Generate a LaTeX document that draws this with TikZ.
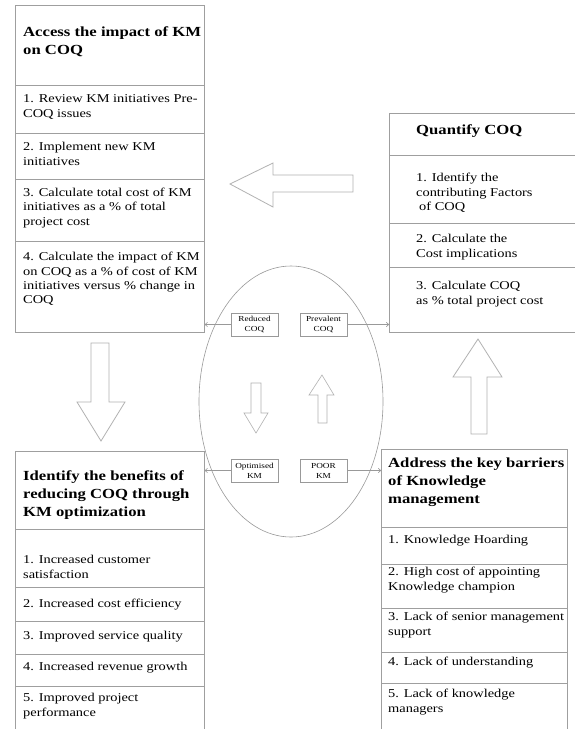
\documentclass[tikz,border=0pt]{standalone}
\usepackage{fontspec}
\setmainfont{Liberation Serif}[FakeStretch=1.2]
\usetikzlibrary{shapes.geometric,arrows.meta}
\tikzset{
  boxline/.style={draw=gray!75, line width=0.8pt},
  bigbox/.style={boxline, rectangle, inner sep=0pt, anchor=north west},
  body/.style={anchor=west, align=left, inner sep=0pt, font=\fontsize{12}{14.4}\selectfont},
  head/.style={anchor=west, align=left, inner sep=0pt, font=\fontsize{13.9}{18}\selectfont\bfseries},
  small/.style={draw=gray!80, line width=0.6pt, minimum width=47pt, minimum height=23pt,
    inner sep=0pt, align=center, font=\fontsize{7.7}{10}\selectfont},
  conn/.style={draw=gray!80, line width=0.6pt, -{To[length=3pt,width=5pt]}},
  blockarrow/.style={draw=gray!60, line width=0.8pt, fill=white, line join=miter},
}
\begin{document}
\begin{tikzpicture}[x=1pt,y=-1pt]
\useasboundingbox (0,0) rectangle (575,729);
\clip (0,0) rectangle (575,729);
\fill[white] (0,0) rectangle (575,729);

% ---------- top-left box ----------
\node[bigbox, minimum width=189pt, minimum height=327pt] (tl) at (15,5) {};
\draw[boxline] (15,85) -- (204,85);
\draw[boxline] (15,133) -- (204,133);
\draw[boxline] (15,179) -- (204,179);
\draw[boxline] (15,241) -- (204,241);
\node[head] (tlh) at (23,42) {Access the impact of KM\\on COQ};
\node[body] (tl1) at (23,107) {1. Review KM initiatives Pre-\\COQ issues};
\node[body] (tl2) at (23,154) {2. Implement new KM\\initiatives};
\node[body] (tl3) at (23,208) {3. Calculate total cost of KM\\initiatives as a \% of total\\project cost};
\node[body] (tl4) at (23,279) {4. Calculate the impact of KM\\on COQ as a \% of cost of KM\\initiatives versus \% change in\\COQ};

% ---------- Quantify box ----------
\node[bigbox, minimum width=195pt, minimum height=219pt] (q) at (389,113) {};
\draw[boxline] (389,155) -- (585,155);
\draw[boxline] (389,223) -- (585,223);
\draw[boxline] (389,267) -- (585,267);
\node[head] (qh) at (416,131) {Quantify COQ};
\node[body] (q1) at (416,193) {1. Identify the\\contributing Factors\\\hspace*{3pt}of COQ};
\node[body] (q2) at (416,247) {2. Calculate the\\Cost implications};
\node[body] (q3) at (416,294) {3. Calculate COQ\\as \% total project cost};

% ---------- bottom-left box ----------
\node[bigbox, minimum width=189pt, minimum height=300pt] (bl) at (15,451) {};
\draw[boxline] (15,529) -- (204,529);
\draw[boxline] (15,587) -- (204,587);
\draw[boxline] (15,621) -- (204,621);
\draw[boxline] (15,654) -- (204,654);
\draw[boxline] (15,686) -- (204,686);
\node[head] (blh) at (23,495) {Identify the benefits of\\reducing COQ through\\KM optimization};
\node[body] (bl1) at (23,567) {1. Increased customer\\satisfaction};
\node[body] (bl2) at (23,605) {2. Increased cost efficiency};
\node[body] (bl3) at (23,637) {3. Improved service quality};
\node[body] (bl4) at (23,668) {4. Increased revenue growth};
\node[body] (bl5) at (23,706) {5. Improved project\\performance};

% ---------- bottom-right box ----------
\node[bigbox, minimum width=186pt, minimum height=300pt] (br) at (381,449) {};
\draw[boxline] (381,527) -- (567,527);
\draw[boxline] (381,564) -- (567,564);
\draw[boxline] (381,608) -- (567,608);
\draw[boxline] (381,652) -- (567,652);
\draw[boxline] (381,683) -- (567,683);
\node[head] (brh) at (388,482) {Address the key barriers\\of Knowledge\\management};
\node[body] (br1) at (388,541) {1. Knowledge Hoarding};
\node[body] (br2) at (388,580) {2. High cost of appointing\\Knowledge champion};
\node[body] (br3) at (388,625) {3. Lack of senior management\\support};
\node[body] (br4) at (388,663) {4. Lack of understanding};
\node[body] (br5) at (388,702) {5. Lack of knowledge\\managers};

% ---------- central ellipse ----------
\node[ellipse, draw=gray!80, line width=0.6pt, minimum width=184pt, minimum height=271pt, inner sep=0pt] (ell) at (291,401.5) {};
\node[small] (red)  at (254.5,324.5) {Reduced\\COQ};
\node[small] (prev) at (323.5,324.5) {Prevalent\\COQ};
\node[small] (opt)  at (254.5,470.5) {Optimised\\KM};
\node[small] (poor) at (323.5,470.5) {POOR\\KM};

\draw[conn] (red.west) -- (red.west -| tl.east);
\draw[conn] (prev.east) -- (prev.east -| q.west);
\draw[conn] (opt.west) -- (opt.west -| bl.east);
\draw[conn] (poor.east) -- (poor.east -| br.west);

% ---------- block arrows ----------
\draw[blockarrow] (230,184) -- (273,163) -- (273,175) -- (353,175) -- (353,192) -- (273,192) -- (273,207) -- cycle;
\draw[blockarrow] (91,343) -- (109,343) -- (109,402) -- (125,402) -- (101,441) -- (77,402) -- (91,402) -- cycle;
\draw[blockarrow] (471,434) -- (487,434) -- (487,377) -- (502,377) -- (478,339) -- (453,377) -- (471,377) -- cycle;
\draw[blockarrow, line width=0.6pt] (251,383) -- (261,383) -- (261,413) -- (268,413) -- (256,433) -- (244,413) -- (251,413) -- cycle;
\draw[blockarrow, line width=0.6pt] (318,423) -- (327,423) -- (327,395) -- (334,395) -- (322,375) -- (309,395) -- (318,395) -- cycle;
\end{tikzpicture}
\end{document}
